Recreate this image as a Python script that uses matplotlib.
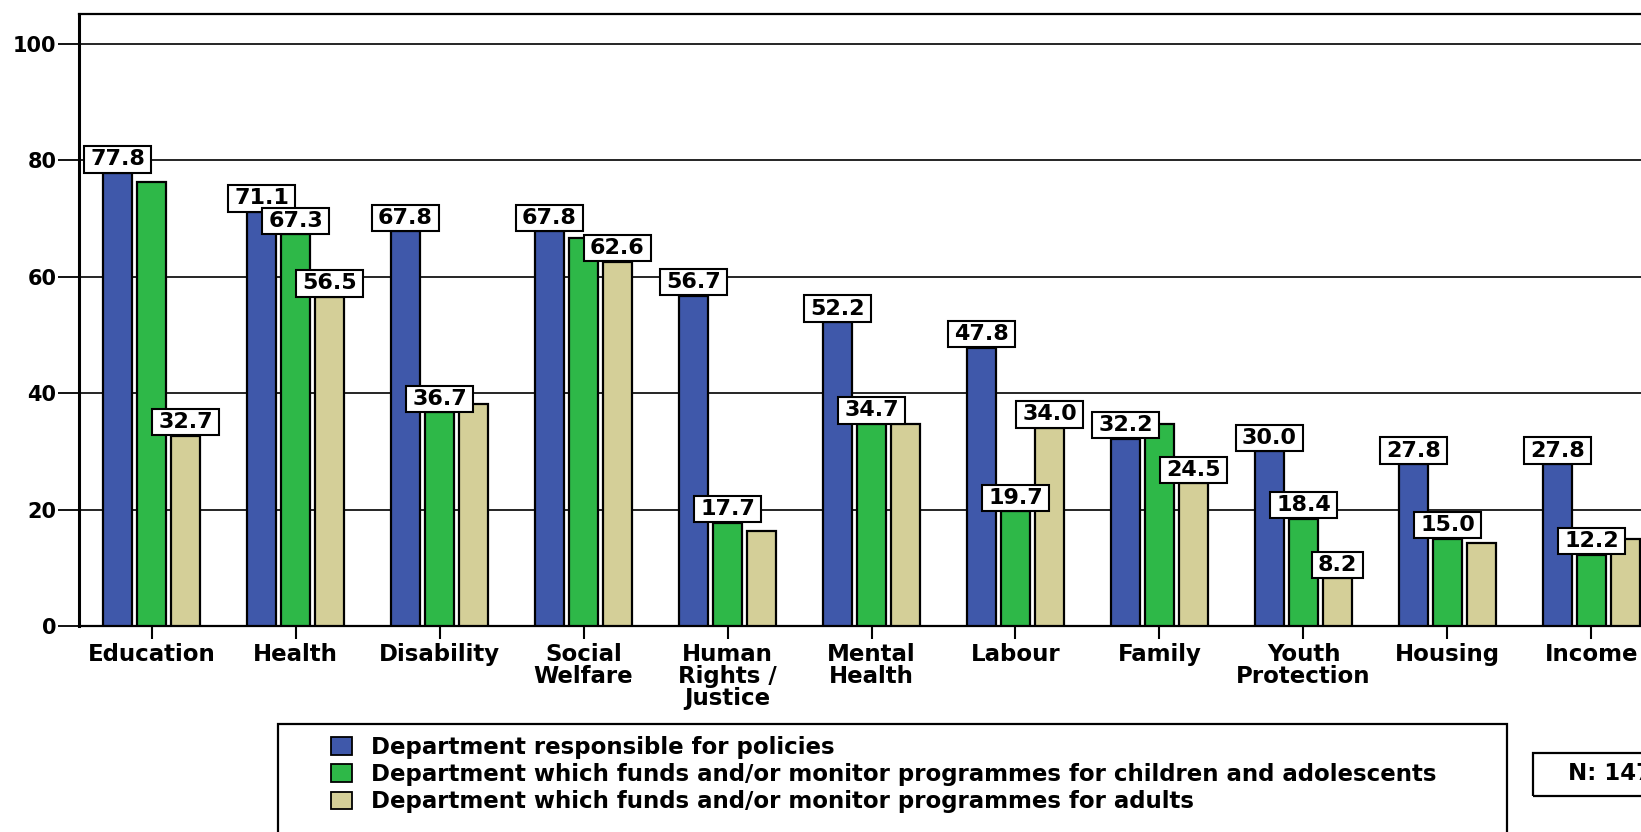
import numpy as np
import matplotlib.pyplot as plt
from matplotlib.patches import Rectangle, Patch
from matplotlib.path import Path

plt.rcParams['font.family'] = ['DejaVu Sans']
plt.rcParams['font.weight'] = 'bold'

categories = ["Education", "Health", "Disability", "Social\nWelfare",
              "Human\nRights /\nJustice", "Mental\nHealth", "Labour", "Family",
              "Youth\nProtection", "Housing", "Income"]
policies = [77.8, 71.1, 67.8, 67.8, 56.7, 52.2, 47.8, 32.2, 30.0, 27.8, 27.8]
children = [76.3, 67.3, 36.7, 66.7, 17.7, 34.7, 19.7, 34.7, 18.4, 15.0, 12.2]
adults = [32.7, 56.5, 38.1, 62.6, 16.3, 34.7, 34.0, 24.5, 8.2, 14.3, 15.0]
# bars that get a value box
show_policies = [1, 1, 1, 1, 1, 1, 1, 1, 1, 1, 1]
show_children = [0, 1, 1, 0, 1, 1, 1, 0, 1, 1, 1]
show_adults = [1, 1, 0, 1, 0, 0, 1, 1, 1, 0, 0]
series_names = ["Department responsible for policies",
                "Department which funds and/or monitor programmes for children and adolescents",
                "Department which funds and/or monitor programmes for adults"]
colors = ["#3f58aa", "#2eb848", "#d4cf98"]


def label_box(x0, y0, width, height, mutation_size):
    # wider padding left/right than top/bottom
    px = 0.27 * mutation_size
    py = 0.14 * mutation_size
    x0, y0 = x0 - px, y0 - py
    x1, y1 = x0 + width + 2 * px, y0 + height + 2 * py
    return Path([(x0, y0), (x1, y0), (x1, y1), (x0, y1), (x0, y0)], closed=True)


W, H = 1641, 832
fig = plt.figure(figsize=(W / 100, H / 100), dpi=100)
ax = fig.add_axes([78.5 / W, 206 / H, 1586 / W, 612.4 / H])

x = np.arange(len(categories))
width = 0.205
step = 0.236
series = [policies, children, adults]
shows = [show_policies, show_children, show_adults]
for i, (vals, show) in enumerate(zip(series, shows)):
    pos = x + (i - 1) * step
    ax.bar(pos, vals, width, color=colors[i], edgecolor='black',
           linewidth=1.6, zorder=3)
    for px, v, s in zip(pos, vals, show):
        if s:
            ax.annotate(f"{v:.1f}", (px, v), xytext=(0, 9.8),
                        textcoords='offset points', ha='center', va='center',
                        fontsize=16, fontweight='bold', zorder=5,
                        bbox=dict(boxstyle=label_box, fc='white',
                                  ec='black', lw=1.5))

ax.set_xlim(-0.507, 10.507)
ax.set_ylim(0, 105.2)
ax.set_yticks([0, 20, 40, 60, 80, 100])
ax.set_xticks(x)
ax.set_xticklabels(categories, fontsize=16.5, fontweight='bold', linespacing=0.93)
ax.tick_params(axis='x', length=9.5, width=1.5, pad=3)
ax.tick_params(axis='y', length=15, width=1.3, pad=1, labelsize=15)
ax.yaxis.grid(True, color='black', linewidth=1.2, zorder=0)
ax.set_axisbelow(True)
for side in ['left', 'top', 'bottom', 'right']:
    ax.spines[side].set_linewidth(1.6)
ax.spines['left'].set_linewidth(2.2)

# legend frame and the N box
fig.patches.append(Rectangle((278 / W, 1 - 840 / H), (1507 - 278) / W, (840 - 724) / H,
                             transform=fig.transFigure, fill=False, ec='black',
                             lw=1.6, clip_on=False))
handles = [Patch(fc=c, ec='black', lw=1.3) for c in colors]
fig.legend(handles, series_names, loc='upper left',
           bbox_to_anchor=(330.7 / W, 1 - 736 / H), frameon=False,
           borderpad=0, borderaxespad=0, handlelength=0.95,
           handleheight=0.8, handletextpad=0.8, labelspacing=0.18,
           prop={'weight': 'bold', 'size': 16.5})
fig.patches.append(Rectangle((1533 / W, 1 - 796 / H), 200 / W, 43 / H,
                             transform=fig.transFigure, fill=False, ec='black',
                             lw=1.6, clip_on=False))
fig.text(1568 / W, 1 - 774 / H, "N: 147", ha='left', va='center',
         fontsize=16.5, fontweight='bold')

fig.savefig('out.png', dpi=100)
